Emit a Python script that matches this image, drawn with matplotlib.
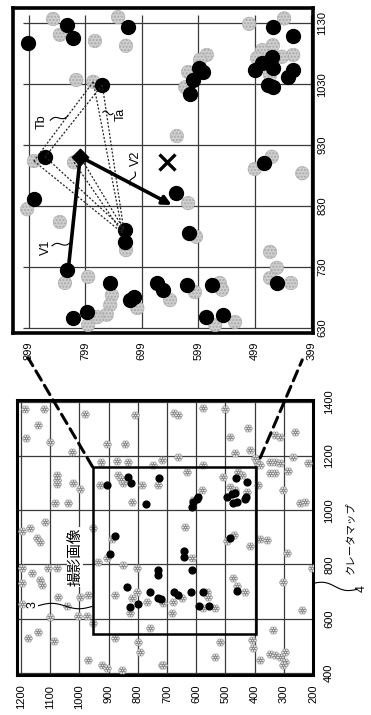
import numpy as np
import matplotlib
matplotlib.use('Agg')
import matplotlib.pyplot as plt
from matplotlib.path import Path
from matplotlib.patches import Rectangle, ConnectionPatch

plt.rcParams['font.family'] = ['Liberation Sans', 'Noto Sans CJK JP', 'DejaVu Sans']
plt.rcParams['hatch.color'] = '#7a7a7a'
plt.rcParams['hatch.linewidth'] = 1.0

# ---------------- crater map (overview), (horizontal, vertical) map values -------------
map_h_ticks = [1200, 1100, 1000, 900, 800, 700, 600, 500, 400, 300, 200]
map_v_ticks = [400, 600, 800, 1000, 1200, 1400]

map_gray_h = [1186, 1121, 1142, 1183, 1101, 981, 810, 906, 844, 1025, 926, 871, 834, 1077, 1077,
              1077, 1022, 998, 930, 851, 868, 858, 786, 748, 731, 1084, 1039, 820, 1118, 1197,
              1169, 1145, 1135, 953, 888, 906, 936, 851, 1197, 1162, 1108, 1077, 1135, 1128, 1197,
              1197, 1073, 1042, 998, 971, 1101, 1005, 974, 953, 878, 820, 803, 827, 769, 1176,
              1142, 1087, 878, 799, 792, 971, 923, 906, 854, 758, 717, 803,
              676, 662, 577, 501, 423, 484, 330, 313, 262, 662, 717, 577, 467, 416, 392, 381,
              399, 347, 330, 313, 330, 347, 286, 268, 217, 631, 508, 457, 443, 388, 303, 244,
              227, 580, 484, 467, 426, 611, 638, 494, 471, 416, 381, 357, 289, 203, 614, 474,
              460, 433, 303, 563, 560, 679, 649, 577, 536, 683, 714, 238, 337, 518, 409, 405,
              536, 381, 347, 330, 313, 296, 296, 303, 714]
map_gray_v = [1374, 1374, 1315, 1267, 1252, 1355, 1352, 1245, 1245, 1215, 1178, 1182, 1178, 1130, 1112,
              1097, 1101, 1079, 1093, 1101, 1130, 1115, 1093, 1167, 1093, 1027, 1027, 1031, 957, 924,
              935, 898, 883, 935, 894, 824, 809, 798, 787, 769, 787, 787, 743, 724, 732,
              654, 680, 647, 680, 687, 606, 610, 610, 584, 687, 676, 699, 621, 662, 529,
              551, 518, 529, 514, 477, 448, 429, 418, 411, 566, 429, 787,
              1359, 1352, 1377, 1374, 1304, 1270, 1278, 1270, 1289, 1197, 1186, 1167, 1211, 1222, 1178, 1167,
              1193, 1178, 1178, 1175, 1138, 1138, 1145, 1197, 1175, 1141, 1123, 1141, 1130, 1093, 1075, 1027,
              1031, 1075, 1086, 1075, 1067, 1038, 938, 887, 909, 868, 894, 890, 842, 787, 824, 750,
              721, 698, 735, 698, 680, 662, 676, 640, 640, 621, 658, 632, 558, 514, 521, 492,
              459, 448, 470, 466, 459, 477, 440, 429, 429]

map_black_h = [906, 834, 823, 772, 727, 878, 895, 837, 827, 799, 758, 721, 731, 731, 731,
               464, 426, 594, 597, 611, 614, 494, 477, 467, 474, 460, 429, 433, 484, 642,
               642, 614, 676, 662, 618, 577, 590, 556, 460]
map_black_v = [1093, 1123, 1101, 1023, 1119, 905, 839, 717, 643, 654, 699, 673, 676, 780, 761,
               1119, 1104, 1049, 1042, 1031, 1012, 1049, 1060, 1064, 1027, 1031, 1049, 1042, 898, 850,
               828, 780, 699, 687, 699, 699, 647, 647, 702]

# region of the captured image on the map
img_h = [955, 395]
img_v = [545, 1160]

# ---------------- captured image (zoomed panel) ----------------
zoom_h_ticks = [899, 799, 699, 599, 499, 399]
zoom_v_ticks = [630, 730, 830, 930, 1030, 1130]

zoom_black_h = [831, 821, 900, 723, 769, 870, 467, 431, 469, 486, 467, 499, 431, 440, 476, 467,
                598, 591, 608, 614, 483, 890, 729, 729, 831, 755, 796, 821, 720, 713, 672, 661,
                638, 615, 460, 619, 575, 585, 555]
zoom_black_v = [1127, 1106, 1098, 1124, 1029, 911, 1124, 1109, 1075, 1065, 1057, 1053, 1053, 1042, 1029, 1025,
                1057, 1050, 1037, 1014, 901, 842, 791, 771, 725, 704, 657, 647, 676, 681, 704, 693,
                852, 786, 704, 701, 701, 648, 652]

zoom_gray_h = [856, 844, 782, 741, 727, 815, 785, 890, 819, 509, 447, 467, 486, 495, 431, 451, 472,
               584, 596, 617, 622, 637, 469, 499, 415, 902, 844, 727, 835, 794, 752, 755, 761, 794,
               778, 707, 617, 603, 472, 460, 435, 472, 649, 605, 561, 557, 569, 534]
zoom_gray_v = [1137, 1111, 1101, 1140, 1093, 1037, 1034, 904, 902, 1129, 1138, 1094, 1086, 1073, 1078, 1075, 1045,
               1078, 1070, 1050, 1025, 945, 911, 891, 884, 825, 804, 758, 704, 714, 684, 668, 652, 635,
               648, 663, 835, 780, 755, 729, 704, 712, 676, 689, 704, 693, 635, 640]

# triangle vertices (current = black, previous = gray)
tri_A = (769, 1029); tri_A_prev = (785, 1034)
tri_B = (870, 911);  tri_B_prev = (890, 904)
tri_C = (731, 792);  tri_C_prev = (733, 786)
tri_D = (808, 911);  tri_D_prev = (819, 902)

v_origin = (808, 911)
v1_end = (831, 710)
v2_end = (646, 832)
x_mark = (654, 902)

# ---------------- figure ----------------
W, H = 371, 715
fig = plt.figure(figsize=(W / 100, H / 100), dpi=100)


def frac(x0, y0, x1, y1):
    return [x0 / W, 1 - y1 / H, (x1 - x0) / W, (y1 - y0) / H]


ax_z = fig.add_axes(frac(13, 8, 313, 333))
ax_m = fig.add_axes(frac(17, 400, 313, 675))

ax_z.set_xlim(927, 396)
ax_z.set_ylim(622, 1155)
ax_m.set_xlim(1214, 200)
ax_m.set_ylim(392, 1407)


def rosette():
    parts = []
    for k in range(6):
        a = 2 * np.pi * k / 6
        parts.append(Path.circle((0.62 * np.cos(a), 0.62 * np.sin(a)), 0.36))
    parts.append(Path.circle((0, 0), 0.3))
    return Path.make_compound_path(*parts)


def wavy(ax, p0, p1, amp=2.2, cycles=1.0, lw=0.8):
    t = ax.transData
    a = np.array(t.transform(p0))
    b = np.array(t.transform(p1))
    s = np.linspace(0, 1, 40)
    d = b - a
    n = np.array([-d[1], d[0]]) / np.hypot(*d)
    pts = a[None, :] + s[:, None] * d[None, :] + (amp * np.sin(2 * np.pi * cycles * s))[:, None] * n[None, :]
    dd = t.inverted().transform(pts)
    ax.plot(dd[:, 0], dd[:, 1], color='k', lw=lw, clip_on=False, zorder=7)


grid_c = '#3a3a3a'

# ---- overview map ----
for h in map_h_ticks:
    ax_m.axvline(h, color=grid_c, lw=0.9, zorder=1)
for v in map_v_ticks:
    ax_m.axhline(v, color=grid_c, lw=0.9, zorder=1)

ax_m.scatter(map_gray_h, map_gray_v, marker=rosette(), s=32, facecolor='#e2e2e2',
             edgecolor='#8f8f8f', linewidths=0.45, zorder=3)
ax_m.scatter(map_black_h, map_black_v, s=24, color='black', zorder=4)
ax_m.add_patch(Rectangle((img_h[1], img_v[0]), img_h[0] - img_h[1], img_v[1] - img_v[0],
                         fill=False, lw=1.8, ec='black', zorder=5))

ax_m.set_xticks(map_h_ticks)
ax_m.set_xticklabels([str(t) for t in map_h_ticks], rotation=90, fontsize=8)
ax_m.yaxis.tick_right()
ax_m.set_yticks(map_v_ticks)
ax_m.set_yticklabels([str(t) for t in map_v_ticks], rotation=90, fontsize=8)
for lab in ax_m.get_yticklabels():
    lab.set_va('center')
ax_m.tick_params(axis='x', length=0, pad=7)
ax_m.tick_params(axis='y', length=0, pad=8)
for sp in ax_m.spines.values():
    sp.set_linewidth(2.2)

ax_m.text(1015, 828, '撮影画像', rotation=90, fontsize=10.5, ha='center', va='center',
          family=['Noto Sans CJK JP'], zorder=6,
          bbox=dict(fc='white', ec='none', pad=0.5))
ax_m.text(1159, 651, '3', rotation=90, fontsize=9, ha='center', va='center', zorder=7)
wavy(ax_m, (1140, 648), (957, 645), amp=2.5, cycles=1.0)
ax_m.text(73, 898, 'クレータマップ', rotation=90, fontsize=7.5, ha='center', va='center',
          family=['Noto Sans CJK JP'], clip_on=False)
ax_m.text(32, 711, '4', rotation=90, fontsize=9, ha='center', va='center', clip_on=False)
wavy(ax_m, (200, 730), (50, 708), amp=2.5, cycles=1.0)

# ---- zoomed panel ----
ax_z.vlines(zoom_h_ticks, 630, 1143, color=grid_c, lw=0.9, zorder=1)
ax_z.hlines(zoom_v_ticks, 909, 399, color=grid_c, lw=0.9, zorder=1)

ax_z.scatter(zoom_gray_h, zoom_gray_v, s=95, facecolor='#cfcfcf', edgecolor='#a8a8a8',
             hatch='.....', linewidths=0.4, zorder=3)
ax_z.scatter(zoom_black_h, zoom_black_v, s=100, color='black', zorder=4)

dot = dict(color='#222222', lw=0.9, ls=(0, (1.6, 1.4)), zorder=5)
for p, q in [(tri_A, tri_B), (tri_A_prev, tri_B_prev), (tri_B, tri_C), (tri_B_prev, tri_C_prev),
             (tri_A, tri_C), (tri_A_prev, tri_C_prev), (tri_D, tri_C), (tri_D_prev, tri_C_prev)]:
    ax_z.plot([p[0], q[0]], [p[1], q[1]], **dot)

arrow = dict(arrowstyle='-|>', color='black', lw=2.6, mutation_scale=13, shrinkA=0, shrinkB=0)
ax_z.annotate('', xy=v1_end, xytext=v_origin, arrowprops=arrow, zorder=6)
ax_z.annotate('', xy=v2_end, xytext=v_origin, arrowprops=arrow, zorder=6)
ax_z.scatter([v_origin[0]], [v_origin[1]], marker='D', s=70, color='black', zorder=6)
ax_z.plot([x_mark[0]], [x_mark[1]], marker='x', ms=12, mew=2.4, color='black', zorder=6)

ax_z.text(876, 968, 'Tb', rotation=90, fontsize=9, ha='center', va='center', zorder=7)
wavy(ax_z, (861, 971), (830, 978), amp=1.6)
ax_z.text(736, 981, 'Ta', rotation=90, fontsize=9, ha='center', va='center', zorder=7)
wavy(ax_z, (750, 982), (768, 984), amp=1.6)
ax_z.text(709, 909, 'V2', rotation=90, fontsize=9, ha='center', va='center', zorder=7)
wavy(ax_z, (711, 886), (720, 865), amp=1.6)
ax_z.text(869, 763, 'V1', rotation=90, fontsize=9, ha='center', va='center', zorder=7)
wavy(ax_z, (858, 765), (826, 770), amp=1.6)

ax_z.set_xticks(zoom_h_ticks)
ax_z.set_xticklabels([str(t) for t in zoom_h_ticks], rotation=90, fontsize=8)
ax_z.yaxis.tick_right()
ax_z.set_yticks(zoom_v_ticks)
ax_z.set_yticklabels([str(t) for t in zoom_v_ticks], rotation=90, fontsize=8)
for lab in ax_z.get_yticklabels():
    lab.set_va('center')
ax_z.tick_params(axis='x', length=0, pad=6)
ax_z.tick_params(axis='y', length=0, pad=3)
for sp in ax_z.spines.values():
    sp.set_linewidth(2.6)

# ---- dashed connectors ----
for pa, pb in [((955, 1160), (900, 581)), ((381, 1193), (415, 578))]:
    con = ConnectionPatch(xyA=pa, coordsA=ax_m.transData, xyB=pb, coordsB=ax_z.transData,
                          color='black', lw=2.2, ls=(0, (3.5, 2.0)), zorder=10)
    fig.add_artist(con)

fig.savefig('out.png', dpi=100)
